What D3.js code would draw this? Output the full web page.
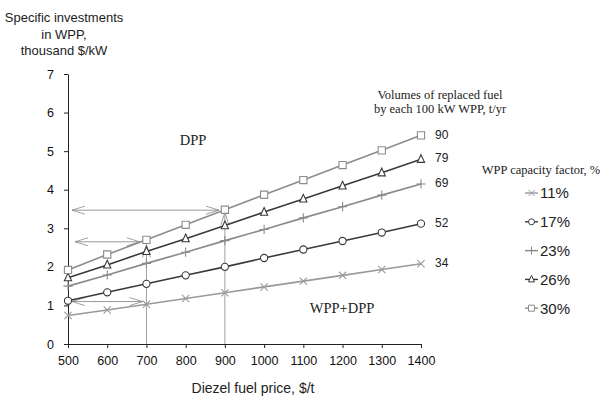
<!DOCTYPE html>
<html>
<head>
<meta charset="utf-8">
<script src="https://cdnjs.cloudflare.com/ajax/libs/d3/7.8.5/d3.min.js"></script>
<style>
  body { margin: 0; background: #fff; }
  svg { display: block; }
</style>
</head>
<body>
<svg id="chart" width="600" height="398"></svg>
<script>
var prices = [500, 600, 700, 800, 900, 1000, 1100, 1200, 1300, 1400]
var factorLabels = ["11%", "17%", "23%", "26%", "30%"]
var fuelVolumes = [34, 52, 69, 79, 90]
var cf11 = [0.74, 0.88, 1.03, 1.18, 1.33, 1.48, 1.63, 1.78, 1.93, 2.08]
var cf17 = [1.12, 1.34, 1.56, 1.78, 2.00, 2.23, 2.45, 2.67, 2.89, 3.12]
var cf23 = [1.50, 1.79, 2.09, 2.38, 2.68, 2.97, 3.27, 3.56, 3.86, 4.15]
var cf26 = [1.72, 2.05, 2.40, 2.73, 3.07, 3.42, 3.76, 4.10, 4.44, 4.79]
var cf30 = [1.92, 2.32, 2.70, 3.09, 3.48, 3.87, 4.25, 4.64, 5.02, 5.41]
var yTicks = [0, 1, 2, 3, 4, 5, 6, 7]
var xTicks = prices

// helper arrows (price1, value1, price2, value2)
var hArrows = [[510, 3.47, 885, 3.47], [518, 2.65, 683, 2.65], [510, 1.10, 690, 1.10]]
var vArrows = [[700, 0, 700, 2.58], [900, 0, 900, 3.42]]

var allSeries = [cf11, cf17, cf23, cf26, cf30]
var colors = ["#9a9a9a", "#3a3a3a", "#8a8a8a", "#3a3a3a", "#8c8c8c"]
var shapes = ["x", "circle", "plus", "triangle", "square"]

var sans = "Arial, 'Liberation Sans', sans-serif"
var serif = "'Times New Roman', 'Liberation Serif', serif"

var svg = d3.select("#chart")

var x = d3.scaleLinear().domain([500, 1400]).range([68, 421])
var y = d3.scaleLinear().domain([0, 7]).range([344, 74])

var markerPath = function(shape, r){
  if (shape == "x") return "M" + (-r) + "," + (-r) + "L" + r + "," + r + "M" + (-r) + "," + r + "L" + r + "," + (-r)
  if (shape == "plus") return "M" + (-r - 1) + ",0H" + (r + 1) + "M0," + (-r - 1) + "V" + (r + 1)
  if (shape == "square") return "M" + (-r) + "," + (-r) + "H" + r + "V" + r + "H" + (-r) + "Z"
  if (shape == "triangle") return "M0," + (-r - 1) + "L" + r + "," + (r - 0.5) + "H" + (-r) + "Z"
  return d3.symbol().type(d3.symbolCircle).size(Math.PI * r * r)()
}

// arrow head (open V)
svg.append("defs").append("marker")
  .attr("id", "head")
  .attr("viewBox", "-14 -6 15 12")
  .attr("refX", 0).attr("refY", 0)
  .attr("markerWidth", 15).attr("markerHeight", 12)
  .attr("markerUnits", "userSpaceOnUse")
  .attr("orient", "auto-start-reverse")
  .append("path")
  .attr("d", "M-13,-4L0,0L-13,4")
  .attr("fill", "none")
  .attr("stroke", "#888")
  .attr("stroke-width", 0.8)

// axes
svg.append("g")
  .attr("transform", "translate(" + x(500) + ",0)")
  .call(d3.axisLeft(y).tickValues(yTicks).tickFormat(d3.format("d")).tickSize(4).tickSizeOuter(0).tickPadding(10))
svg.append("g")
  .attr("transform", "translate(0," + y(0) + ")")
  .call(d3.axisBottom(x).tickValues(xTicks).tickFormat(d3.format("d")).tickSize(4).tickSizeOuter(0).tickPadding(8))

svg.selectAll(".tick text")
  .style("font-family", sans)
  .style("font-size", "12.5px")
  .style("fill", "#111")
svg.selectAll(".domain, .tick line").attr("stroke", "#222")

// helper lines
svg.selectAll(".varrow")
  .data(vArrows)
  .enter()
  .append("line")
  .attr("x1", function(d){ return x(d[0]) })
  .attr("y1", function(d){ return y(d[1]) })
  .attr("x2", function(d){ return x(d[2]) })
  .attr("y2", function(d){ return y(d[3]) })
  .attr("stroke", "#a0a0a0")
  .attr("stroke-width", 1)
  .attr("marker-end", "url(#head)")

svg.selectAll(".harrow")
  .data(hArrows)
  .enter()
  .append("line")
  .attr("x1", function(d){ return x(d[0]) })
  .attr("y1", function(d){ return y(d[1]) })
  .attr("x2", function(d){ return x(d[2]) })
  .attr("y2", function(d){ return y(d[3]) })
  .attr("stroke", "#999")
  .attr("stroke-width", 1)
  .attr("marker-start", "url(#head)")
  .attr("marker-end", "url(#head)")

// series
var line = d3.line()
  .x(function(d, i){ return x(prices[i]) })
  .y(function(d){ return y(d) })

allSeries.forEach(function(values, k){
  svg.append("path")
    .datum(values)
    .attr("d", line)
    .attr("fill", "none")
    .attr("stroke", colors[k])
    .attr("stroke-width", 1.6)

  svg.selectAll(".m" + k)
    .data(values)
    .enter()
    .append("path")
    .attr("class", "m" + k)
    .attr("transform", function(d, i){ return "translate(" + x(prices[i]) + "," + y(d) + ")" })
    .attr("d", markerPath(shapes[k], 3.6))
    .attr("fill", (shapes[k] == "x" || shapes[k] == "plus") ? "none" : "#fff")
    .attr("stroke", colors[k])
    .attr("stroke-width", 1.1)

  svg.append("text")
    .text(fuelVolumes[k])
    .attr("x", x(1400) + 14)
    .attr("y", y(values[values.length - 1]) - 1)
    .attr("dy", "0.35em")
    .style("font-family", sans)
    .style("font-size", "12px")
    .style("fill", "#222")
})

// legend
var legend = svg.append("g")
factorLabels.forEach(function(lab, k){
  var ly = 193 + k * 28.8
  legend.append("line")
    .attr("x1", 525).attr("x2", 538)
    .attr("y1", ly).attr("y2", ly)
    .attr("stroke", colors[k])
    .attr("stroke-width", 1.4)
  legend.append("path")
    .attr("transform", "translate(531.5," + ly + ")")
    .attr("d", markerPath(shapes[k], 3))
    .attr("fill", (shapes[k] == "x" || shapes[k] == "plus") ? "none" : "#fff")
    .attr("stroke", colors[k])
    .attr("stroke-width", 1)
  legend.append("text")
    .text(lab)
    .attr("x", 540)
    .attr("y", ly)
    .attr("dy", "0.36em")
    .style("font-family", sans)
    .style("font-size", "15px")
    .style("fill", "#222")
})

legend.append("text")
  .text("WPP capacity factor, %")
  .attr("x", 541).attr("y", 174)
  .attr("text-anchor", "middle")
  .style("font-family", serif)
  .style("font-size", "12.5px")
  .style("fill", "#222")

// annotations
var notes = [
  ["Volumes of replaced fuel", 440, 99, 12.5],
  ["by each 100 kW WPP, t/yr", 440, 113, 12.5],
  ["DPP", 193, 145, 14.5],
  ["WPP+DPP", 342, 313, 14.5]
]
svg.selectAll(".note")
  .data(notes)
  .enter()
  .append("text")
  .text(function(d){ return d[0] })
  .attr("x", function(d){ return d[1] })
  .attr("y", function(d){ return d[2] })
  .attr("text-anchor", "middle")
  .style("font-family", serif)
  .style("font-size", function(d){ return d[3] + "px" })
  .style("fill", "#222")

// axis titles
var yTitle = ["Specific investments", "in WPP,", "thousand $/kW"]
svg.selectAll(".ytitle")
  .data(yTitle)
  .enter()
  .append("text")
  .text(function(d){ return d })
  .attr("x", 64)
  .attr("y", function(d, i){ return 22 + i * 16.5 })
  .attr("text-anchor", "middle")
  .style("font-family", sans)
  .style("font-size", "13px")
  .style("fill", "#222")

svg.append("text")
  .text("Diezel fuel price, $/t")
  .attr("x", 253)
  .attr("y", 393)
  .attr("text-anchor", "middle")
  .style("font-family", sans)
  .style("font-size", "14px")
  .style("fill", "#222")
</script>
</body>
</html>
